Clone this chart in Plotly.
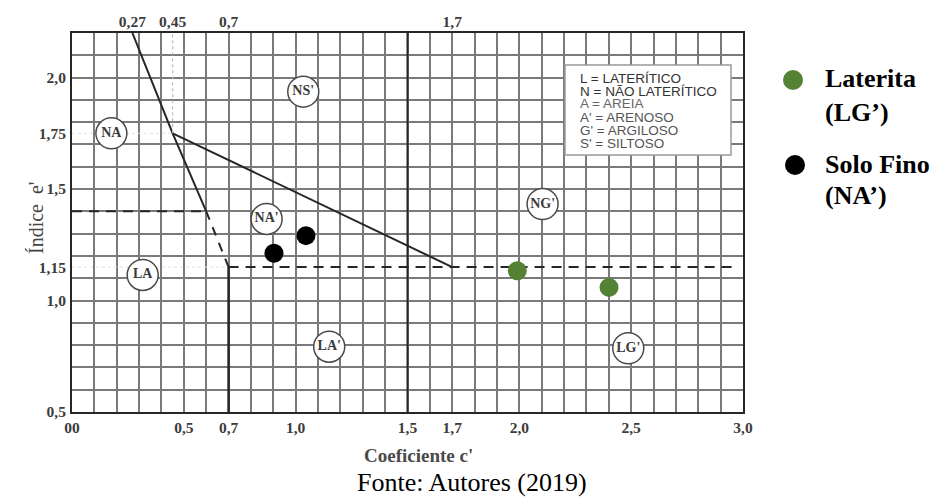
import plotly.graph_objects as go

# ---------------- data ----------------
x_range = [0.0, 3.0]
y_range = [0.5, 2.2]
x_ticks = [0.0, 0.5, 0.7, 1.0, 1.5, 1.7, 2.0, 2.5, 3.0]
x_ticktext = ["00", "0,5", "0,7", "1,0", "1,5", "1,7", "2,0", "2,5", "3,0"]
x_top_ticks = [0.27, 0.45, 0.7, 1.7]
x_top_ticktext = ["0,27", "0,45", "0,7", "1,7"]
y_ticks = [0.5, 1.0, 1.15, 1.5, 1.75, 2.0]
y_ticktext = ["0,5", "1,0", "1,15", "1,5", "1,75", "2,0"]

# region boundaries (c', e')
lim_solid1_c = [0.27, 0.45, 0.60]
lim_solid1_e = [2.20, 1.75, 1.40]
lim_solid2_c = [0.45, 1.70]
lim_solid2_e = [1.75, 1.15]
lim_solid3_c = [0.70, 0.70]
lim_solid3_e = [0.50, 1.15]
lim_solid4_c = [1.50, 1.50]
lim_solid4_e = [0.50, 2.20]
lim_dash1_c = [0.60, 0.70]
lim_dash1_e = [1.40, 1.15]
lim_dash2_c = [0.00, 0.60]
lim_dash2_e = [1.40, 1.40]
lim_dash3_c = [0.70, 2.98]
lim_dash3_e = [1.15, 1.15]
lim_dot1_c = [0.45, 0.45]
lim_dot1_e = [1.75, 2.20]
lim_faint1_c = [0.00, 0.45]
lim_faint1_e = [1.75, 1.75]
lim_faint2_c = [0.00, 0.70]
lim_faint2_e = [1.15, 1.15]

# region labels
regioes = ["NA", "NS'", "NA'", "LA", "LA'", "NG'", "LG'"]
regioes_c = [0.176, 1.034, 0.870, 0.316, 1.150, 2.104, 2.487]
regioes_e = [1.750, 1.937, 1.366, 1.115, 0.793, 1.433, 0.786]

# samples
laterita_c = [1.991, 2.401]
laterita_e = [1.134, 1.059]
solo_fino_c = [0.903, 1.046]
solo_fino_e = [1.212, 1.291]

legenda_siglas = ["L = LATERÍTICO", "N = NÃO LATERÍTICO", "A = AREIA",
                  "A' = ARENOSO", "G' = ARGILOSO", "S' = SILTOSO"]

# ---------------- layout helpers ----------------
W, H = 932, 499
L, R, T, B = 72, 189, 33, 87
PW, PH = W - L - R, H - T - B


def px(x):
    return (x - L) / PW


def py(y):
    return (H - B - y) / PH


SERIF = "Liberation Serif"
SANS = "Liberation Sans"
LINE = "#262626"
GREEN = "#548235"

fig = go.Figure()


def add_line(c, e, dash="solid", color=LINE, width=2, xaxis="x"):
    fig.add_trace(go.Scatter(x=c, y=e, mode="lines", xaxis=xaxis,
                             line=dict(color=color, width=width, dash=dash),
                             hoverinfo="skip", showlegend=False))


add_line(lim_faint1_c, lim_faint1_e, dash="dot", color="#e2e2e2", width=1)
add_line(lim_faint2_c, lim_faint2_e, dash="dot", color="#e2e2e2", width=1)
add_line(lim_dot1_c, lim_dot1_e, dash="dot", color="#bdbdbd", width=1.2, xaxis="x2")
add_line(lim_solid1_c, lim_solid1_e)
add_line(lim_solid2_c, lim_solid2_e)
add_line(lim_solid3_c, lim_solid3_e, width=2.5)
add_line(lim_solid4_c, lim_solid4_e)
add_line(lim_dash1_c, lim_dash1_e, dash="9px,8px")
add_line(lim_dash2_c, lim_dash2_e, dash="10px,7px")
add_line(lim_dash3_c, lim_dash3_e, dash="10px,7px")

fig.add_trace(go.Scatter(
    x=regioes_c, y=regioes_e, mode="markers+text", text=regioes,
    textposition="middle center",
    textfont=dict(family=SERIF, size=14, color="#3a3a3a", weight="bold"),
    marker=dict(symbol="circle", size=31, color="white",
                line=dict(color="#4a4a4a", width=1.5)),
    hoverinfo="skip", showlegend=False))

fig.add_trace(go.Scatter(x=laterita_c, y=laterita_e, mode="markers",
                         name="Laterita (LG')",
                         marker=dict(size=19, color=GREEN), showlegend=False))
fig.add_trace(go.Scatter(x=solo_fino_c, y=solo_fino_e, mode="markers",
                         name="Solo Fino (NA')",
                         marker=dict(size=19, color="black"), showlegend=False))

tickfont = dict(family=SERIF, size=15.5, color="#3c3c3c", weight="bold")
gridstyle = dict(showgrid=True, gridcolor="#7a7a7a", gridwidth=1.5)

fig.update_layout(
    width=W, height=H, autosize=False,
    margin=dict(l=L, r=R, t=T, b=B, pad=0),
    plot_bgcolor="white", paper_bgcolor="white",
    xaxis=dict(range=x_range, tickmode="array", tickvals=x_ticks,
               ticktext=x_ticktext, tickfont=tickfont, showgrid=False,
               ticks="", zeroline=False, showline=True, mirror=True,
               linecolor=LINE, linewidth=2, ticklabelstandoff=0,
               automargin=False,
               minor=dict(dtick=0.1, tick0=0, ticks="", **gridstyle)),
    xaxis2=dict(range=x_range, overlaying="x", side="top", tickmode="array",
                tickvals=x_top_ticks, ticktext=x_top_ticktext,
                tickfont=tickfont, showgrid=False, ticks="", zeroline=False,
                showline=False, ticklabelstandoff=2, automargin=False),
    yaxis=dict(range=y_range, tickmode="array", tickvals=y_ticks,
               ticktext=y_ticktext, tickfont=tickfont, showgrid=False,
               ticks="", zeroline=False, showline=True, mirror=True,
               linecolor=LINE, linewidth=2, ticklabelstandoff=1,
               automargin=False,
               minor=dict(dtick=0.1, tick0=0.5, ticks="", **gridstyle)),
    showlegend=False,
)

# legend box with abbreviations
fig.add_shape(type="rect", xref="paper", yref="paper",
              x0=px(565), x1=px(731), y0=py(155), y1=py(65),
              fillcolor="white", line=dict(color="#9a9a9a", width=1.5),
              layer="above")
line_y = [78, 91, 104, 117, 130, 143]
line_col = ["#333333", "#333333", "#666666", "#555555", "#555555", "#555555"]
for txt, yy, col in zip(legenda_siglas, line_y, line_col):
    fig.add_annotation(x=px(578), y=py(yy), xref="paper", yref="paper",
                       text=txt, showarrow=False, xanchor="left",
                       yanchor="middle",
                       font=dict(family=SANS, size=13.5, color=col))

# right legend
for cx, cy, col in [(793, 80, GREEN), (795, 165, "black")]:
    fig.add_shape(type="circle", xref="paper", yref="paper",
                  xsizemode="pixel", ysizemode="pixel",
                  xanchor=px(cx), yanchor=py(cy), x0=-10, x1=10, y0=-10, y1=10,
                  fillcolor=col, line=dict(width=0))
for txt, yy in [("Laterita", 78), ("(LG’)", 112), ("Solo Fino", 164), ("(NA’)", 195)]:
    fig.add_annotation(x=px(823), y=py(yy), xref="paper", yref="paper",
                       text="<b>%s</b>" % txt, showarrow=False, xanchor="left",
                       yanchor="middle",
                       font=dict(family=SERIF, size=26, color="black"))

# axis titles and source
fig.add_annotation(x=px(23), y=py(218), xref="paper", yref="paper",
                   text="Índice  e'", textangle=-90, showarrow=False,
                   font=dict(family=SERIF, size=20, color="#444444"))
fig.add_annotation(x=px(419), y=py(443), xref="paper", yref="paper",
                   text="<b>Coeficiente c'</b>", showarrow=False,
                   xanchor="center", yanchor="top",
                   font=dict(family=SERIF, size=19, color="#4a4a4a"))
fig.add_annotation(x=px(472), y=py(499), xref="paper", yref="paper",
                   text="Fonte: Autores (2019)", showarrow=False,
                   xanchor="center", yanchor="bottom",
                   font=dict(family=SERIF, size=26, color="black"))

fig.write_html("out.html")
